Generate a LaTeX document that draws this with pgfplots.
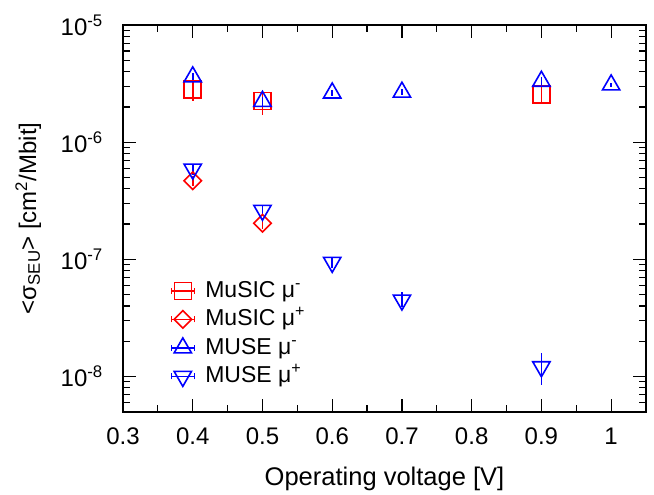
\documentclass[border=0pt]{standalone}
\usepackage{fontspec}
\setmainfont{Liberation Sans}
\usepackage{pgfplots}
\pgfplotsset{compat=1.18}
\pgfplotstableread{
x y ep em
0.4 2.80e-6 0.94e-6 0.55e-6
0.5 2.25e-6 0.44e-6 0.53e-6
0.9 2.56e-6 1.03e-6 0.41e-6
}\musicminus
\pgfplotstableread{
x y ep em
0.4 4.69e-7 0.45e-7 0.45e-7
0.5 2.03e-7 0.22e-7 0.22e-7
}\musicplus
\pgfplotstableread{
x y ep em
0.4 3.61e-6 0.25e-6 0.25e-6
0.5 2.23e-6 0.20e-6 0.20e-6
0.6 2.63e-6 0.15e-6 0.15e-6
0.7 2.67e-6 0.15e-6 0.15e-6
0.9 3.31e-6 0.30e-6 0.30e-6
1.0 3.08e-6 0.15e-6 0.15e-6
}\museminus
\pgfplotstableread{
x y ep em
0.4 5.89e-7 0.6e-7 0.6e-7
0.5 2.62e-7 0.3e-7 0.3e-7
0.6 9.42e-8 1.0e-8 1.0e-8
0.7 4.49e-8 0.8e-8 0.6e-8
0.9 1.21e-8 0.37e-8 0.37e-8
}\museplus
\begin{document}
\fontsize{24bp}{28bp}\selectfont
\begin{tikzpicture}
\begin{axis}[
  scale only axis, width=523bp, height=386.7bp,
  xmin=0.3, xmax=1.05, ymode=log, ymin=5e-9, ymax=1e-5,
  xtick={0.3,0.4,0.5,0.6,0.7,0.8,0.9,1.0},
  xticklabels={0.3,0.4,0.5,0.6,0.7,0.8,0.9,1},
  minor xtick={0.35,0.45,0.55,0.65,0.75,0.85,0.95},
  ytick={1e-8,1e-7,1e-6,1e-5},
  yticklabels={10\textsuperscript{-8},10\textsuperscript{-7},10\textsuperscript{-6},10\textsuperscript{-5}},
  minor ytick={6e-9,7e-9,8e-9,9e-9,2e-8,3e-8,4e-8,5e-8,6e-8,7e-8,8e-8,9e-8,2e-7,3e-7,4e-7,5e-7,6e-7,7e-7,8e-7,9e-7,2e-6,3e-6,4e-6,5e-6,6e-6,7e-6,8e-6,9e-6},
  tick align=inside, major tick length=13bp, minor tick length=7bp,
  axis line style={line width=1.6bp, black},
  every tick/.append style={line width=1.2bp, black},
  tick label style={font=\fontsize{24bp}{28bp}\selectfont},
  xticklabel style={yshift=-8bp},
  yticklabel style={xshift=-12bp},
  label style={font=\fontsize{24bp}{28bp}\selectfont},
  xlabel={Operating voltage [V]},
  ylabel={<σ\textsubscript{SEU}> [cm\textsuperscript{2}/Mbit]},
  xlabel style={at={(axis description cs:0.5,-0.174)}, anchor=center, font=\fontsize{25.5bp}{30bp}\selectfont},
  ylabel style={at={(axis description cs:-0.181,0.5)}, anchor=center},
  legend cell align=left,
  legend style={at={(axis description cs:0.092,0.054)}, anchor=south west, draw=none, fill=none, inner sep=0pt,
    font=\fontsize{23bp}{27bp}\selectfont, column sep=8bp,
    nodes={inner sep=3bp, text height=17.5bp, text depth=5bp}},
  legend image code/.code={
    \path[use as bounding box, draw=none, fill=none] (0bp,-9bp) rectangle (23bp,8.5bp);
    \draw[mark=none] (0bp,0bp) -- (23bp,0bp);
    \draw[mark=none] (0bp,-3bp) -- (0bp,3bp) (23bp,-3bp) -- (23bp,3bp);
    \draw plot coordinates {(11.5bp,0bp)};
  },
  error bars/y dir=both, error bars/y explicit,
  error bars/error mark=none,
]
\addplot[only marks, color=red, line width=1.6bp, mark=square, mark size=8.5bp,
  mark options={draw=red, fill=none}, error bars/error bar style={line width=1.6bp, red}]
  table[x=x, y=y, y error plus=ep, y error minus=em] {\musicminus};
\addlegendentry{MuSIC μ\textsuperscript{-}}
\addplot[only marks, color=red, line width=1.6bp, mark=square, mark size=6.2bp,
  mark options={rotate=45, draw=red, fill=none}, error bars/error bar style={line width=1.6bp, red}]
  table[x=x, y=y, y error plus=ep, y error minus=em] {\musicplus};
\addlegendentry{MuSIC μ\textsuperscript{+}}
\addplot[only marks, color=blue, line width=1.6bp, mark=triangle, mark size=10bp,
  mark options={draw=blue, fill=none}, error bars/error bar style={line width=1.6bp, blue}]
  table[x=x, y=y, y error plus=ep, y error minus=em] {\museminus};
\addlegendentry{MUSE μ\textsuperscript{-}}
\addplot[only marks, color=blue, line width=1.6bp, mark=triangle, mark size=10bp,
  mark options={rotate=180, draw=blue, fill=none}, error bars/error bar style={line width=1.6bp, blue}]
  table[x=x, y=y, y error plus=ep, y error minus=em] {\museplus};
\addlegendentry{MUSE μ\textsuperscript{+}}
\end{axis}
\pgfresetboundingbox
\path[use as bounding box] ([shift={(-123bp,-83bp)}]current axis.south west) rectangle ([shift={(8bp,25bp)}]current axis.north east);
\end{tikzpicture}
\end{document}
